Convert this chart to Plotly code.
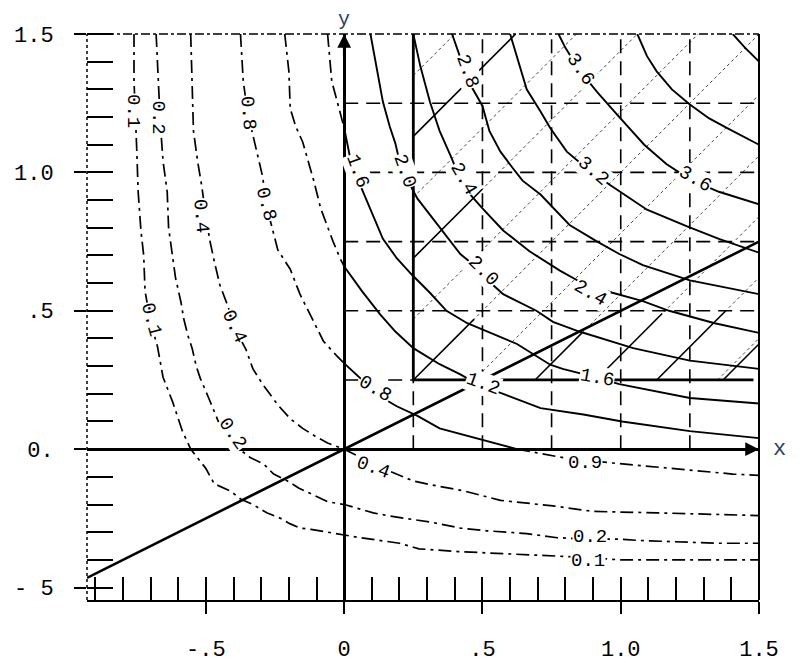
import plotly.graph_objects as go

# ---------------- contour curves (data units) -------------
c01_x = [-0.76,-0.76,-0.75,-0.745,-0.735,-0.725,-0.72,-0.70,-0.675,-0.655,-0.62,-0.585,-0.555,-0.53,-0.50,-0.47,-0.41,-0.375,-0.33,-0.28,-0.23,-0.195,-0.16,-0.12,-0.06,0.06,0.20,0.27,0.41,0.52,0.71,0.85,1.0,1.12,1.5]
c01_y = [1.5,1.33,1.08,0.93,0.79,0.70,0.57,0.46,0.37,0.26,0.17,0.065,0.0,-0.03,-0.07,-0.125,-0.152,-0.18,-0.2,-0.23,-0.25,-0.27,-0.285,-0.29,-0.30,-0.32,-0.34,-0.36,-0.37,-0.375,-0.385,-0.39,-0.40,-0.40,-0.40]

c02_x = [-0.68,-0.675,-0.665,-0.655,-0.64,-0.635,-0.62,-0.61,-0.59,-0.58,-0.565,-0.55,-0.535,-0.52,-0.49,-0.455,-0.41,-0.37,-0.34,-0.29,-0.255,-0.205,-0.165,-0.06,0.0,0.05,0.105,0.155,0.215,0.275,0.32,0.42,0.515,0.66,0.77,0.89,0.99,1.07,1.22,1.35,1.5]
c02_y = [1.5,1.39,1.18,1.04,0.93,0.80,0.68,0.62,0.53,0.47,0.41,0.365,0.30,0.255,0.185,0.10,0.04,-0.007,-0.03,-0.055,-0.09,-0.115,-0.14,-0.19,-0.20,-0.215,-0.23,-0.24,-0.25,-0.26,-0.265,-0.285,-0.295,-0.305,-0.32,-0.325,-0.325,-0.33,-0.335,-0.34,-0.34]

c04_x = [-0.555,-0.55,-0.545,-0.53,-0.515,-0.50,-0.485,-0.47,-0.45,-0.42,-0.395,-0.355,-0.33,-0.295,-0.24,-0.195,-0.15,-0.105,-0.06,0.0,0.13,0.25,0.345,0.43,0.565,0.755,0.90,1.13,1.285,1.5]
c04_y = [1.5,1.33,1.15,1.04,0.95,0.84,0.75,0.68,0.595,0.515,0.435,0.36,0.29,0.235,0.16,0.11,0.075,0.047,0.022,0.0,-0.065,-0.115,-0.135,-0.15,-0.185,-0.205,-0.225,-0.23,-0.235,-0.24]

c08_x = [-0.375,-0.365,-0.35,-0.33,-0.315,-0.295,-0.28,-0.26,-0.24,-0.195,-0.16,-0.11,-0.075,-0.025,0.0,0.06,0.13,0.19,0.265,0.345,0.49,0.625,0.71,0.815,0.97,1.08,1.18,1.285,1.405,1.5]
c08_y = [1.5,1.33,1.22,1.13,1.075,0.985,0.875,0.795,0.72,0.65,0.56,0.46,0.39,0.335,0.31,0.255,0.19,0.155,0.12,0.075,0.035,0.0,-0.015,-0.035,-0.05,-0.06,-0.07,-0.08,-0.09,-0.095]

c12_x = [-0.215,-0.20,-0.195,-0.175,-0.15,-0.13,-0.11,-0.085,-0.06,-0.04,-0.015,0.0,0.065,0.13,0.185,0.25,0.345,0.42,0.49,0.575,0.71,0.865,1.005,1.25,1.5]
c12_y = [1.5,1.365,1.23,1.165,1.11,1.04,0.97,0.87,0.80,0.75,0.69,0.66,0.57,0.487,0.425,0.365,0.307,0.27,0.23,0.20,0.148,0.125,0.10,0.065,0.04]

c16_x = [-0.06,-0.05,-0.045,-0.025,0.0,0.02,0.045,0.07,0.105,0.14,0.19,0.245,0.31,0.37,0.445,0.515,0.625,0.745,0.79,0.89,0.995,1.25,1.5]
c16_y = [1.5,1.40,1.33,1.255,1.16,1.06,0.985,0.925,0.84,0.76,0.69,0.63,0.565,0.50,0.455,0.425,0.38,0.305,0.29,0.265,0.235,0.185,0.165]

c20_x = [0.095,0.12,0.14,0.165,0.185,0.20,0.23,0.265,0.345,0.42,0.475,0.525,0.575,0.695,0.755,0.85,1.045,1.25,1.5]
c20_y = [1.5,1.365,1.255,1.165,1.105,1.04,0.97,0.905,0.80,0.705,0.66,0.605,0.56,0.50,0.46,0.425,0.365,0.32,0.29]

c24_x = [0.25,0.275,0.31,0.345,0.385,0.42,0.46,0.50,0.575,0.67,0.78,0.87,0.97,1.08,1.175,1.34,1.5]
c24_y = [1.5,1.385,1.255,1.15,1.06,0.975,0.915,0.87,0.79,0.715,0.645,0.595,0.565,0.535,0.50,0.455,0.42]

c28_x = [0.39,0.425,0.46,0.50,0.525,0.565,0.61,0.645,0.71,0.815,0.915,0.995,1.08,1.25,1.5]
c28_y = [1.5,1.40,1.31,1.24,1.15,1.075,1.015,0.97,0.92,0.81,0.75,0.705,0.665,0.61,0.56]

c32_x = [0.60,0.63,0.66,0.71,0.745,0.805,0.87,0.96,1.095,1.24,1.355,1.5]
c32_y = [1.5,1.40,1.30,1.22,1.16,1.075,1.02,0.955,0.865,0.805,0.76,0.71]

c36_x = [0.775,0.80,0.85,0.915,0.995,1.085,1.165,1.25,1.355,1.5]
c36_y = [1.5,1.45,1.37,1.29,1.20,1.10,1.03,0.975,0.93,0.885]

c40_x = [1.06,1.095,1.13,1.185,1.25,1.32,1.385,1.5]
c40_y = [1.5,1.42,1.365,1.30,1.245,1.195,1.16,1.10]

c44_x = [1.405,1.45,1.5]
c44_y = [1.5,1.45,1.40]

# ---------------- straight elements ---------------------------------------------
ray_x = [-0.93, 1.5]
ray_y = [-0.465, 0.75]
box_x = [0.25, 0.25, 1.48]
box_y = [1.5, 0.25, 0.25]
box_lo, box_hi = 0.25, 1.5
hatch_dotted_c = [1.1, 0.88, 0.66, 0.44, 0.22, 0.0, -0.22, -0.44, -0.66, -0.88, -1.1]
hatch_solid_c = [0.88, 0.44, 0.0, -0.44, -0.66, -0.88, -1.12]
hatch_solid_x0 = [0.25, 0.25, 0.25, 0.69, 0.91, 1.13, 1.37]
hatch_solid_x1 = [0.62, 0.50, 0.47, 0.86, 1.15, 1.38, 1.50]
grid_vals = [0.5, 0.75, 1.0, 1.25]
grid_short = [0.25]

# ---------------- labels -------------------------------------------------------
lab_text = ["0.1","0.2","0.1","0.4","0.4","0.8","0.8","0.2","0.8","0.4","0.9","0.2","0.1",
            "1.6","2.0","2.8","2.4","3.6","3.2","3.6","2.0","2.4","1.2","1.6"]
lab_x = [-0.762,-0.675,-0.70,-0.52,-0.40,-0.35,-0.285,-0.404,0.112,0.105,0.87,0.888,0.881,
         0.047,0.217,0.444,0.43,0.852,0.899,1.267,0.502,0.888,0.502,0.913]
lab_y = [1.22,1.20,0.469,0.841,0.444,1.213,0.884,0.054,0.217,-0.069,-0.051,-0.318,-0.405,
         1.004,1.004,1.365,0.975,1.372,1.004,0.975,0.643,0.563,0.235,0.256]
lab_angle = [90,90,75,85,65,85,75,55,30,20,0,0,0,70,70,70,60,55,40,30,45,30,20,10]

xtick_vals = [-0.5, 0, 0.5, 1.0, 1.5]
xtick_text = ["-.5", "0", ".5", "1.0", "1.5"]
ytick_vals = [-0.5, 0, 0.5, 1.0, 1.5]
ytick_text = ["- 5", "0.", ".5", "1.0", "1.5"]
x_range = [-0.93, 1.5]
y_range = [-0.545, 1.5]

curves = [(c01_x, c01_y), (c02_x, c02_y), (c04_x, c04_y), (c08_x, c08_y),
          (c12_x, c12_y), (c16_x, c16_y), (c20_x, c20_y), (c24_x, c24_y),
          (c28_x, c28_y), (c32_x, c32_y), (c36_x, c36_y), (c40_x, c40_y),
          (c44_x, c44_y)]

FONT = "Liberation Mono, DejaVu Sans Mono, monospace"
fig = go.Figure()

def line(xs, ys, width=1.8, dash="solid", color="black"):
    fig.add_trace(go.Scatter(x=xs, y=ys, mode="lines", hoverinfo="skip",
                             line=dict(color=color, width=width, dash=dash),
                             showlegend=False))

# hatch (thin dotted diagonals inside the square)
for c in hatch_dotted_c:
    x0 = max(box_lo, box_lo - c); x1 = min(box_hi, box_hi - c)
    if x1 > x0:
        line([x0, x1], [x0 + c, x1 + c], width=1, dash="dot", color="#444")
for c, a, b in zip(hatch_solid_c, hatch_solid_x0, hatch_solid_x1):
    line([a, b], [a + c, b + c], width=1.6)

# dashed grid in first quadrant
GRID_DASH = "14px,8px"
for g in grid_vals:
    line([g, g], [0, 1.5], width=1.6, dash=GRID_DASH)
    line([0, 1.5], [g, g], width=1.6, dash=GRID_DASH)
for g in grid_short:
    line([g, g], [0, g], width=1.6, dash=GRID_DASH)
    line([0, g], [g, g], width=1.6, dash=GRID_DASH)

# contour curves: solid in first quadrant, dashed elsewhere
def inq(x, y):
    return x >= -1e-9 and y >= -1e-9

for xs, ys in curves:
    segs = []
    cur = inq(xs[0], ys[0]); sx = [xs[0]]; sy = [ys[0]]
    for x, y in zip(xs[1:], ys[1:]):
        q = inq(x, y)
        if q == cur:
            sx.append(x); sy.append(y)
        elif q:  # entering the first quadrant
            sx.append(x); sy.append(y)
            segs.append((cur, sx, sy)); cur = q; sx = [x]; sy = [y]
        else:    # leaving it
            segs.append((cur, sx, sy)); cur = q
            sx = [sx[-1], x]; sy = [sy[-1], y]
    segs.append((cur, sx, sy))
    for solid, sx, sy in segs:
        if len(sx) > 1:
            line(sx, sy, width=1.9 if solid else 1.7,
                 dash="solid" if solid else "13px,5px,3px,5px")

line(ray_x, ray_y, width=2.6)
line(box_x, box_y, width=2.8)

for t, x, y, a in zip(lab_text, lab_x, lab_y, lab_angle):
    fig.add_annotation(x=x, y=y, text=t, showarrow=False, textangle=a,
                       font=dict(family=FONT, size=19, color="black"),
                       bgcolor="white", borderpad=0)

# axis arrows and names
fig.add_annotation(x=0, y=1.5, ax=0, ay=24, text="", showarrow=True, arrowhead=2,
                   arrowsize=1.1, arrowwidth=2.5, arrowcolor="black", standoff=0)
fig.add_annotation(x=1.5, y=0, ax=-24, ay=0, text="", showarrow=True, arrowhead=2,
                   arrowsize=1.1, arrowwidth=2.5, arrowcolor="black", standoff=0)
fig.add_annotation(x=0, y=1.0, xref="x", yref="paper", yanchor="bottom", yshift=1,
                   text="y", showarrow=False, font=dict(family=FONT, size=20))
fig.add_annotation(x=1.0, y=0, xref="paper", yref="y", xanchor="left", xshift=12,
                   text="x", showarrow=False, font=dict(family=FONT, size=22))

minor_x = [round(-0.9 + 0.1 * i, 2) for i in range(25)]
minor_y = [round(-0.5 + 0.1 * i, 2) for i in range(21)]

# the page places the figure 8px from the top-left corner: size and margins are
# chosen so the plot area lands where the reference has it
fig.update_layout(
    width=792, height=664, margin=dict(l=79, r=41, t=26, b=72),
    paper_bgcolor="white", plot_bgcolor="white", showlegend=False,
    xaxis=dict(range=x_range, tickvals=xtick_vals, ticktext=xtick_text,
               ticks="outside", ticklen=12, tickwidth=2, tickcolor="black",
               minor=dict(tickvals=minor_x, ticks="inside", ticklen=23,
                          tickwidth=2, tickcolor="black"),
               showgrid=False, zeroline=True, zerolinewidth=3, zerolinecolor="black",
               showline=True, linewidth=2, linecolor="black",
               tickfont=dict(family=FONT, size=22, color="black"),
               ticklabelstandoff=16, automargin=False),
    yaxis=dict(range=y_range, tickvals=ytick_vals, ticktext=ytick_text,
               ticks="outside", ticklen=12, tickwidth=2, tickcolor="black",
               minor=dict(tickvals=minor_y, ticks="inside", ticklen=26,
                          tickwidth=2, tickcolor="black"),
               showgrid=False, zeroline=True, zerolinewidth=3, zerolinecolor="black",
               showline=False,
               tickfont=dict(family=FONT, size=22, color="black"),
               ticklabelstandoff=16, automargin=False),
    xaxis2=dict(range=x_range, overlaying="x", anchor="y", side="bottom",
                tickvals=xtick_vals, ticks="inside", ticklen=23, tickwidth=2,
                tickcolor="black", showticklabels=False, showgrid=False,
                zeroline=False, showline=False),
    yaxis2=dict(range=y_range, overlaying="y", anchor="x", side="left",
                tickvals=ytick_vals, ticks="inside", ticklen=26, tickwidth=2,
                tickcolor="black", showticklabels=False, showgrid=False,
                zeroline=False, showline=False),
    shapes=[
        dict(type="line", xref="paper", yref="paper", x0=0, x1=1, y0=1, y1=1,
             line=dict(color="black", width=1.5, dash="dashdot")),
        dict(type="line", xref="paper", yref="paper", x0=1, x1=1, y0=0, y1=1,
             line=dict(color="black", width=2)),
        dict(type="line", xref="paper", yref="paper", x0=0, x1=0, y0=0, y1=1,
             line=dict(color="black", width=1.5, dash="dot")),
    ],
)
fig.add_trace(go.Scatter(x=[None], y=[None], xaxis="x2", yaxis="y2",
                         showlegend=False, hoverinfo="skip"))

fig.write_html("out.html")
